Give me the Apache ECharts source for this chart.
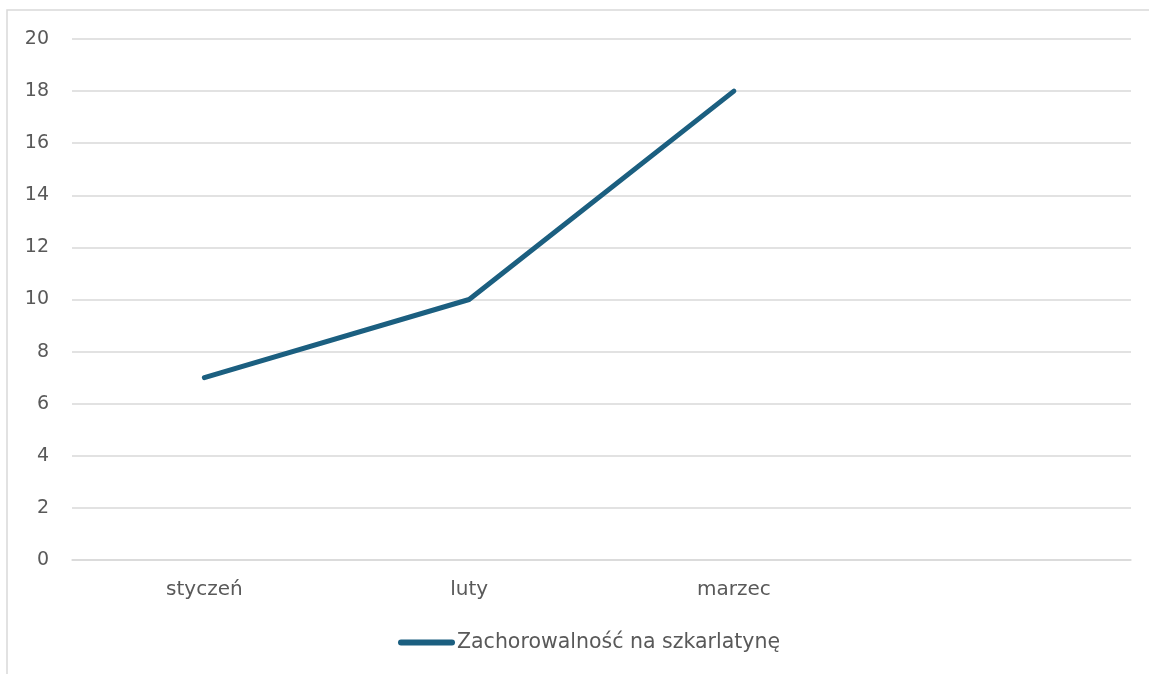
<!DOCTYPE html>
<html><head><meta charset="utf-8">
<script src="https://cdn.jsdelivr.net/npm/echarts@6/dist/echarts.min.js"></script>
<style>html,body{margin:0;padding:0;background:#fff}#c{width:1149px;height:674px}</style>
</head><body><div id="c"></div>
<script>
const categories = ['styczeń', 'luty', 'marzec', ''];
const values = [7, 10, 18, null];
const seriesName = 'Zachorowalność na szkarlatynę';
const yTicks = {min: 0, max: 20, interval: 2};

const chart = echarts.init(document.getElementById('c'));
chart.setOption({
  animation: false,
  backgroundColor: '#fff',
  graphic: [{type: 'rect', shape: {x: 7, y: 10, width: 1200, height: 720}, style: {fill: 'none', stroke: '#d9d9d9', lineWidth: 1.5}, silent: true}],
  grid: {left: 72, right: 18, top: 39, bottom: 114, containLabel: false},
  xAxis: {
    type: 'category', data: categories, boundaryGap: true,
    axisLine: {show: true, lineStyle: {color: '#d9d9d9', width: 1.5}},
    axisTick: {show: false},
    axisLabel: {color: '#595959', fontSize: 20, fontFamily: 'DejaVu Sans', margin: 20}
  },
  yAxis: {
    type: 'value', min: yTicks.min, max: yTicks.max, interval: yTicks.interval,
    axisLine: {show: false}, axisTick: {show: false},
    splitLine: {lineStyle: {color: '#d9d9d9', width: 1.5}},
    axisLabel: {color: '#595959', fontSize: 19, fontFamily: 'DejaVu Sans', margin: 23}
  },
  legend: {
    show: true, bottom: 16, left: 393,
    itemWidth: 57, itemHeight: 6, itemGap: 10,
    icon: 'path://M3,0 L54,0 A3,3 0 0 1 54,6 L3,6 A3,3 0 0 1 3,0 Z',
    textStyle: {color: '#595959', fontSize: 20.5, fontFamily: 'DejaVu Sans', padding: [0, 0, 0, -3]},
    data: [{name: seriesName, itemStyle: {color: '#1b5f80'}}]
  },
  series: [{
    name: seriesName, type: 'line', data: values,
    showSymbol: false, symbol: 'none',
    lineStyle: {color: '#1b5f80', width: 5, cap: 'round', join: 'round'},
    itemStyle: {color: '#1b5f80'}
  }]
});
</script></body></html>
